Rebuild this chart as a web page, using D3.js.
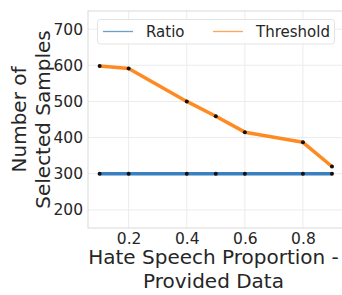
<!DOCTYPE html>
<html lang="en">
<head>
    <meta charset="UTF-8">
    <script src="https://d3js.org/d3.v7.min.js"></script>
    <title>Selected Samples</title>
    <style>
        body { margin: 0; background: #fff; }
        svg text { font-family: "DejaVu Sans", sans-serif; fill: #262626; }
    </style>
</head>
<body>
    <div class="fig"></div>
    <script>
        // data
        const proportions = [0.1, 0.2, 0.4, 0.5, 0.6, 0.8, 0.9];
        const ratioValues = [300, 300, 300, 300, 300, 300, 300];
        const thresholdValues = [598, 591, 500, 459, 415, 387, 320];
        const seriesNames = ["Ratio", "Threshold"];
        const seriesColors = ["#3a7fbf", "#ff8a22"];
        const xTicks = [0.2, 0.4, 0.6, 0.8];
        const yTicks = [200, 300, 400, 500, 600, 700];

        const width = 342, height = 295;
        const plot = { left: 88, top: 11, right: 343.6, bottom: 228 };

        const svg = d3.select(".fig").append("svg")
            .attr("width", width)
            .attr("height", height);

        const x = d3.scaleLinear().domain([0.06, 0.94]).range([plot.left, plot.right]);
        const y = d3.scaleLinear().domain([150, 750]).range([plot.bottom, plot.top]);

        // grid
        svg.append("g").selectAll("line").data(xTicks).enter().append("line")
            .attr("x1", d => x(d)).attr("x2", d => x(d))
            .attr("y1", plot.top).attr("y2", plot.bottom)
            .attr("stroke", "#ebebeb").attr("stroke-width", 1);
        svg.append("g").selectAll("line").data(yTicks).enter().append("line")
            .attr("x1", plot.left).attr("x2", plot.right)
            .attr("y1", d => y(d)).attr("y2", d => y(d))
            .attr("stroke", "#ebebeb").attr("stroke-width", 1);

        // frame
        svg.append("rect")
            .attr("x", plot.left).attr("y", plot.top)
            .attr("width", plot.right - plot.left).attr("height", plot.bottom - plot.top)
            .attr("fill", "none").attr("stroke", "#d9d9d9").attr("stroke-width", 1);

        // axes (tick labels only, no tick marks)
        const xAxis = svg.append("g")
            .attr("transform", `translate(0,${plot.bottom})`)
            .call(d3.axisBottom(x).tickValues(xTicks).tickFormat(d3.format(".1f")).tickSize(0).tickPadding(5));
        const yAxis = svg.append("g")
            .attr("transform", `translate(${plot.left},0)`)
            .call(d3.axisLeft(y).tickValues(yTicks).tickSize(0).tickPadding(5));
        [xAxis, yAxis].forEach(a => {
            a.select(".domain").remove();
            a.selectAll("text").style("font-size", "15.5px").attr("fill", "#262626");
        });

        // lines
        const line = d3.line().x(d => x(d[0])).y(d => y(d[1]));
        const series = [ratioValues, thresholdValues];
        series.forEach((vals, i) => {
            const pts = proportions.map((p, j) => [p, vals[j]]);
            svg.append("path")
                .datum(pts)
                .attr("d", line)
                .attr("fill", "none")
                .attr("stroke", seriesColors[i])
                .attr("stroke-width", 3.5)
                .attr("stroke-linejoin", "round");
        });
        series.forEach(vals => {
            svg.append("g").selectAll("circle")
                .data(proportions.map((p, j) => [p, vals[j]]))
                .enter().append("circle")
                .attr("cx", d => x(d[0]))
                .attr("cy", d => y(d[1]))
                .attr("r", 2)
                .attr("fill", "#111");
        });

        // legend
        const legend = svg.append("g");
        legend.append("rect")
            .attr("x", 97.5).attr("y", 19.5).attr("width", 237).attr("height", 24.5)
            .attr("rx", 3)
            .attr("fill", "#fff").attr("fill-opacity", 0.85)
            .attr("stroke", "#e3e3e3");
        const legendX = [103, 213];
        seriesNames.forEach((name, i) => {
            legend.append("line")
                .attr("x1", legendX[i]).attr("x2", legendX[i] + 30)
                .attr("y1", 31.5).attr("y2", 31.5)
                .attr("stroke", seriesColors[i])
                .attr("stroke-opacity", 0.75)
                .attr("stroke-width", 1.3);
            legend.append("text")
                .attr("x", legendX[i] + 43).attr("y", 37)
                .style("font-size", "15px")
                .text(name);
        });

        // axis labels
        svg.append("text")
            .attr("text-anchor", "middle")
            .style("font-size", "20px")
            .selectAll("tspan")
            .data(["Hate Speech Proportion -", "Provided Data"])
            .enter().append("tspan")
            .attr("x", (plot.left + 338) / 2 + 0.5)
            .attr("y", (d, i) => 264 + i * 23.5)
            .text(d => d);

        svg.append("text")
            .attr("text-anchor", "middle")
            .attr("transform", `translate(0,${(plot.top + plot.bottom) / 2}) rotate(-90)`)
            .style("font-size", "20px")
            .selectAll("tspan")
            .data(["Number of", "Selected Samples"])
            .enter().append("tspan")
            .attr("x", 0)
            .attr("y", (d, i) => 26 + i * 23.5)
            .text(d => d);
    </script>
</body>
</html>
